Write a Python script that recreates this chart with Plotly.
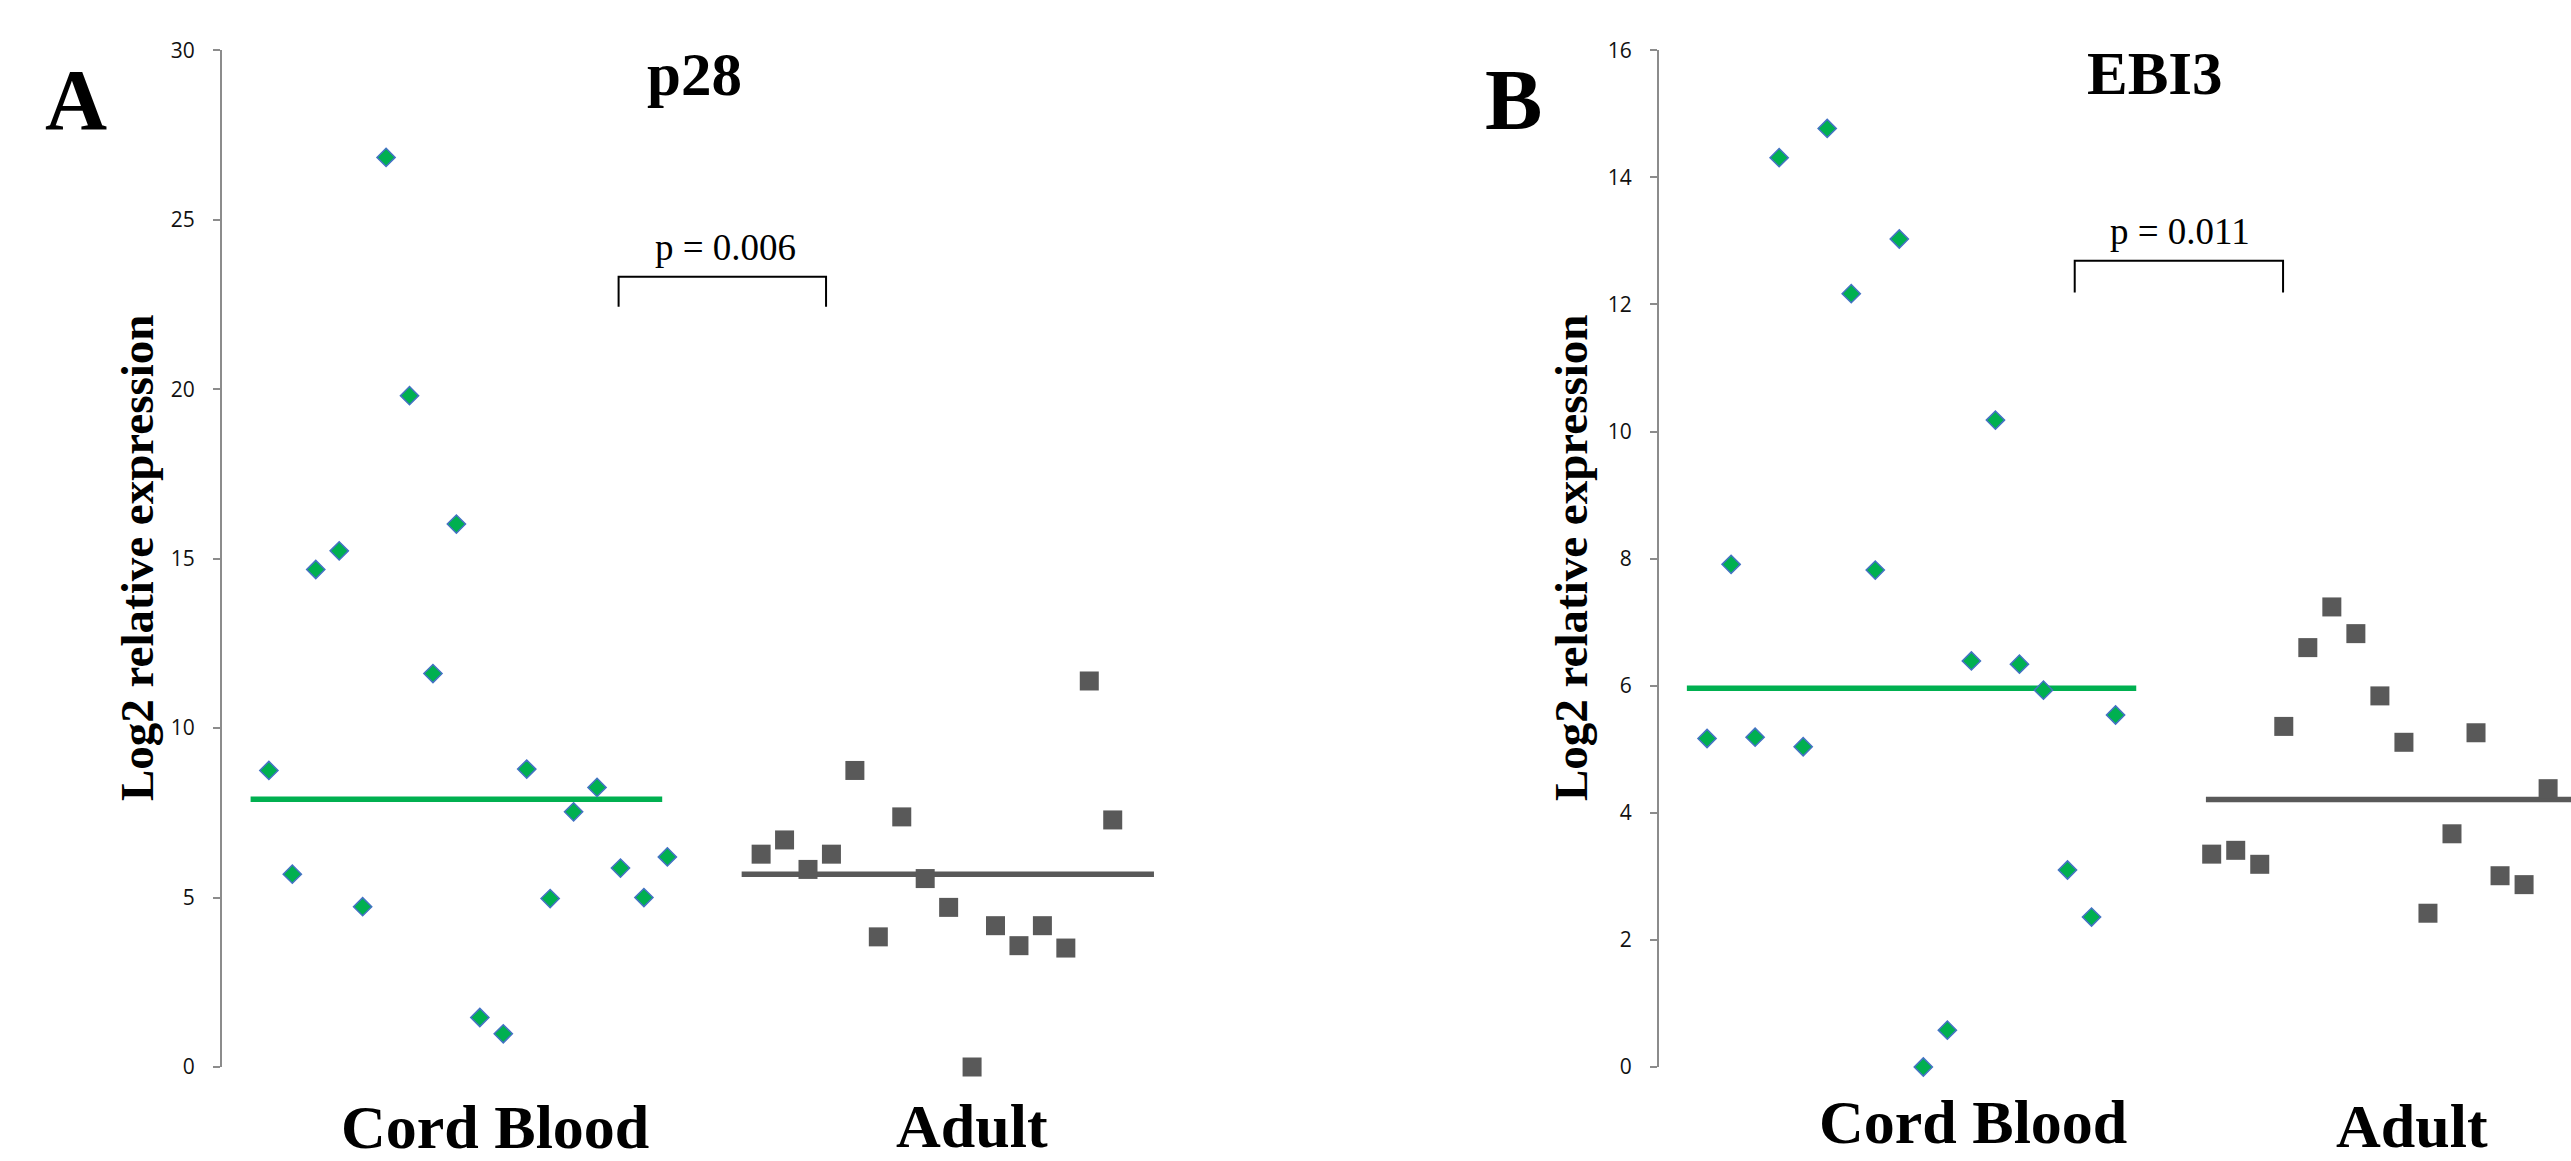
import plotly.graph_objects as go
import numpy as np

# ---------------- data ----------------
groups = ["Cord Blood", "Adult"]
panel_titles = ["p28", "EBI3"]
panel_letters = ["A", "B"]
p_values = ["p = 0.006", "p = 0.011"]

cord_p28 = [8.75, 5.69, 14.68, 15.23, 4.73, 26.84, 19.81, 11.61, 16.02,
            1.46, 0.98, 8.79, 4.97, 7.53, 8.25, 5.87, 5.00, 6.20]
adult_p28 = [6.28, 6.70, 5.83, 6.28, 8.75, 3.84, 7.38, 5.56, 4.71,
             0.00, 4.17, 3.58, 4.17, 3.51, 11.39, 7.29]
cord_ebi3 = [5.17, 7.91, 5.19, 14.31, 5.04, 14.77, 12.17, 7.82, 13.03,
             0.00, 0.58, 6.39, 10.18, 6.34, 5.93, 3.10, 2.36, 5.54]
adult_ebi3 = [3.35, 3.41, 3.19, 5.36, 6.60, 7.24, 6.82, 5.84, 5.11,
              2.42, 3.67, 5.26, 3.01, 2.87, 4.38, 2.80]
median_p28 = [7.90, 5.69]
median_ebi3 = [5.96, 4.21]
yticks_p28 = [0, 5, 10, 15, 20, 25, 30]
yticks_ebi3 = [0, 2, 4, 6, 8, 10, 12, 14, 16]

# ---------------- layout constants ----------------
W, H = 2571, 1161
GREEN = "#00B050"
GREEN_EDGE = "#4472C4"
GRAY = "#595959"
AXIS = "#8c8c8c"
SERIF = "Liberation Serif, Times New Roman, serif"
SANS = "Open Sans, Liberation Sans, sans-serif"

def px(x):
    return x / W

def py(y):
    return 1 - y / H

y_dom = [py(1067), py(50.3)]

panels = [
    dict(cord=cord_p28, adult=adult_p28, med=median_p28, ymax=30, ticks=yticks_p28,
         x0px=222, step=23.44, xmax=40,
         green_span=(1.22, 18.78), gray_span=(22.17, 39.76),
         bracket=(16.92, 25.77, 22.43, 23.32), ptext=(21.48, 247.5),
         title=(694, 75), letter=(76, 100), ytitle=(137, 558),
         cat=[(495, 1127), (972, 1126)]),
    dict(cord=cord_ebi3, adult=adult_ebi3, med=median_ebi3, ymax=16, ticks=yticks_ebi3,
         x0px=1659, step=24.03, xmax=(W - 1659) / 24.03,
         green_span=(1.16, 19.86), gray_span=(22.76, 41.0),
         bracket=(17.3, 25.97, 12.19, 12.69), ptext=(21.67, 231.8),
         title=(2155, 73), letter=(1513, 100.5), ytitle=(1571, 558),
         cat=[(1973, 1122), (2412, 1126)]),
]

fig = go.Figure()
annotations = []
layout_axes = {}

for i, p in enumerate(panels):
    n = "" if i == 0 else str(i + 1)
    xa, ya = "x" + n, "y" + n
    ncord, nad = len(p["cord"]), len(p["adult"])
    xc = np.arange(2, 2 + ncord)
    xad = np.arange(2 + ncord + 3, 2 + ncord + 3 + nad)

    # median lines
    fig.add_trace(go.Scatter(x=list(p["green_span"]), y=[p["med"][0]] * 2, mode="lines",
                             line=dict(color=GREEN, width=5.5), xaxis=xa, yaxis=ya,
                             showlegend=False, hoverinfo="skip"))
    fig.add_trace(go.Scatter(x=list(p["gray_span"]), y=[p["med"][1]] * 2, mode="lines",
                             line=dict(color=GRAY, width=5.5), xaxis=xa, yaxis=ya,
                             showlegend=False, hoverinfo="skip"))
    # points
    fig.add_trace(go.Scatter(x=xc, y=p["cord"], mode="markers", name=groups[0],
                             marker=dict(symbol="diamond", size=14, color=GREEN,
                                         line=dict(color=GREEN_EDGE, width=1.5)),
                             cliponaxis=False, xaxis=xa, yaxis=ya, showlegend=False))
    fig.add_trace(go.Scatter(x=xad, y=p["adult"], mode="markers", name=groups[1],
                             marker=dict(symbol="square", size=19, color=GRAY,
                                         line=dict(width=0)),
                             cliponaxis=False, xaxis=xa, yaxis=ya, showlegend=False))
    # bracket
    bx0, bx1, by0, by1 = p["bracket"]
    fig.add_trace(go.Scatter(x=[bx0, bx0, bx1, bx1], y=[by0, by1, by1, by0], mode="lines",
                             line=dict(color="black", width=2), xaxis=xa, yaxis=ya,
                             showlegend=False, hoverinfo="skip"))

    x_end = p["x0px"] + p["step"] * p["xmax"]
    layout_axes["xaxis" + n] = dict(domain=[px(p["x0px"]), min(1.0, px(x_end))],
                                    range=[0, p["xmax"]], visible=False, anchor=ya,
                                    automargin=False)
    layout_axes["yaxis" + n] = dict(domain=y_dom, range=[0, p["ymax"]], anchor=xa,
                                    tickvals=p["ticks"], ticks="outside", ticklen=7,
                                    tickwidth=2, tickcolor=AXIS, showline=True,
                                    linecolor=AXIS, linewidth=2, showgrid=False,
                                    zeroline=False, ticklabelstandoff=14,
                                    automargin=False,
                                    tickfont=dict(family=SANS, size=21, color="#111"))

    # p-value text
    annotations.append(dict(text=p_values[i], x=p["ptext"][0], y=py(p["ptext"][1]),
                            xref=xa, yref="paper",
                            showarrow=False, xanchor="center", yanchor="middle",
                            font=dict(family=SERIF, size=37, color="black")))
    # title
    annotations.append(dict(text="<b>%s</b>" % panel_titles[i], x=px(p["title"][0]),
                            y=py(p["title"][1]), xref="paper", yref="paper",
                            showarrow=False, xanchor="center", yanchor="middle",
                            font=dict(family=SERIF, size=61, color="black")))
    # panel letter
    annotations.append(dict(text="<b>%s</b>" % panel_letters[i], x=px(p["letter"][0]),
                            y=py(p["letter"][1]), xref="paper", yref="paper",
                            showarrow=False, xanchor="center", yanchor="middle",
                            font=dict(family=SERIF, size=86, color="black")))
    # y-axis title
    annotations.append(dict(text="<b>Log2 relative expression</b>", x=px(p["ytitle"][0]),
                            y=py(p["ytitle"][1]), xref="paper", yref="paper",
                            showarrow=False, xanchor="center", yanchor="middle",
                            textangle=-90,
                            font=dict(family=SERIF, size=47, color="black")))
    # category labels
    for g, (cx, cy) in zip(groups, p["cat"]):
        annotations.append(dict(text="<b>%s</b>" % g, x=px(cx), y=py(cy), xref="paper",
                                yref="paper", showarrow=False, xanchor="center",
                                yanchor="middle",
                                font=dict(family=SERIF, size=62, color="black")))

fig.update_layout(width=W, height=H, margin=dict(l=0, r=0, t=0, b=0, autoexpand=False),
                  paper_bgcolor="white", plot_bgcolor="white",
                  annotations=annotations, showlegend=False, **layout_axes)

fig.write_html("out.html",
               config={"displayModeBar": False},
               post_script="document.body.style.margin='0';"
                           "document.body.style.overflow='hidden';")
